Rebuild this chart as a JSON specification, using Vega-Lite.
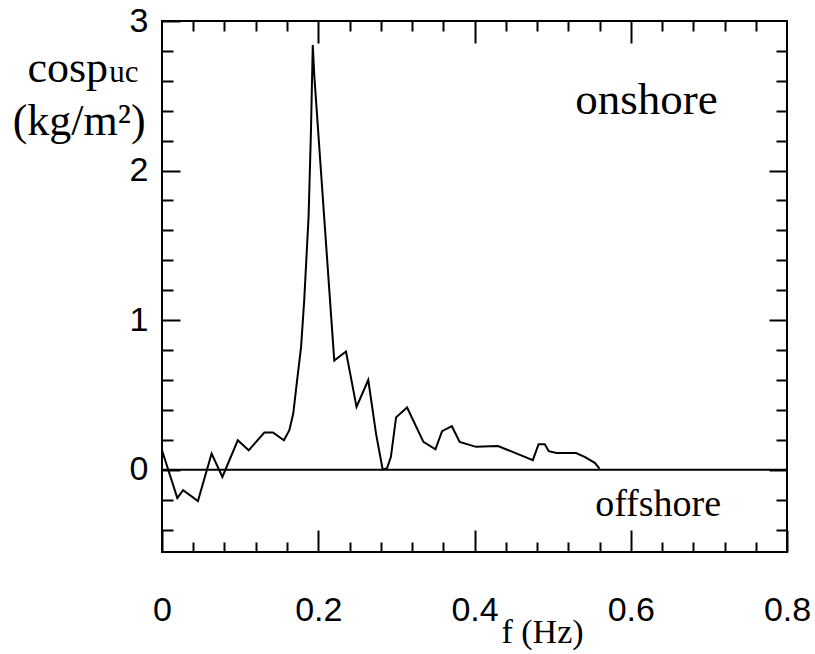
{
  "$schema": "https://vega.github.io/schema/vega-lite/v6.json",
  "width": 625,
  "height": 531,
  "autosize": {"type": "none"},
  "padding": {"left": 162, "top": 21, "right": 28, "bottom": 102},
  "background": "white",
  "config": {
    "view": {"stroke": "black", "strokeWidth": 2},
    "axis": {"domain": false, "grid": false, "tickColor": "black", "tickWidth": 2, "labelFont": "Liberation Sans", "labelFontSize": 34, "labelColor": "black", "labelFlush": false, "labelOverlap": false}
  },
  "datasets": {
    "curve": [
      {"f": 0.000, "c": 0.13},
      {"f": 0.0196, "c": -0.19},
      {"f": 0.027, "c": -0.137},
      {"f": 0.046, "c": -0.21},
      {"f": 0.0635, "c": 0.108},
      {"f": 0.0773, "c": -0.048},
      {"f": 0.097, "c": 0.197},
      {"f": 0.111, "c": 0.13},
      {"f": 0.131, "c": 0.249},
      {"f": 0.142, "c": 0.249},
      {"f": 0.156, "c": 0.197},
      {"f": 0.163, "c": 0.264},
      {"f": 0.168, "c": 0.376},
      {"f": 0.173, "c": 0.6},
      {"f": 0.178, "c": 0.82},
      {"f": 0.182, "c": 1.13},
      {"f": 0.1876, "c": 1.69},
      {"f": 0.1906, "c": 2.25},
      {"f": 0.193, "c": 2.84},
      {"f": 0.195, "c": 2.63},
      {"f": 0.201, "c": 2.18},
      {"f": 0.212, "c": 1.36},
      {"f": 0.2205, "c": 0.73},
      {"f": 0.2355, "c": 0.79},
      {"f": 0.249, "c": 0.42},
      {"f": 0.264, "c": 0.60},
      {"f": 0.274, "c": 0.24},
      {"f": 0.2825, "c": 0.0},
      {"f": 0.288, "c": 0.01},
      {"f": 0.293, "c": 0.086},
      {"f": 0.2996, "c": 0.35},
      {"f": 0.3137, "c": 0.416},
      {"f": 0.3346, "c": 0.186},
      {"f": 0.35, "c": 0.137},
      {"f": 0.3585, "c": 0.258},
      {"f": 0.371, "c": 0.291},
      {"f": 0.381, "c": 0.186},
      {"f": 0.402, "c": 0.153},
      {"f": 0.43, "c": 0.159},
      {"f": 0.4747, "c": 0.064},
      {"f": 0.482, "c": 0.171},
      {"f": 0.49, "c": 0.171},
      {"f": 0.495, "c": 0.124},
      {"f": 0.505, "c": 0.112},
      {"f": 0.53, "c": 0.112},
      {"f": 0.541, "c": 0.086},
      {"f": 0.554, "c": 0.046},
      {"f": 0.560, "c": 0.008}
    ],
    "one": [{}]
  },
  "resolve": {"axis": {"x": "independent", "y": "independent"}},
  "layer": [
    {
      "data": {"name": "curve"},
      "mark": {"type": "line", "color": "black", "strokeWidth": 2},
      "encoding": {
        "x": {"field": "f", "type": "quantitative", "scale": {"domain": [0, 0.8], "nice": false, "zero": false},
          "axis": {"orient": "bottom", "values": [0, 0.2, 0.4, 0.6, 0.8], "tickSize": -22, "labelPadding": 63,
            "labelExpr": "datum.value == 0 ? '0' : format(datum.value, '.1f')",
            "title": "f (Hz)", "titleFont": "Liberation Serif", "titleFontSize": 34, "titleFontWeight": "normal", "titleColor": "black",
            "titleX": 380, "titleY": 90, "titleBaseline": "alphabetic", "titleAlign": "center", "titleAnchor": null}},
        "y": {"field": "c", "type": "quantitative", "scale": {"domain": [-0.55, 3], "nice": false, "zero": false},
          "axis": {"orient": "left", "values": [0, 1, 2, 3], "tickSize": -18, "labelPadding": 32,
            "labelExpr": "format(datum.value, 'd')", "title": null}}
      }
    },
    {
      "data": {"name": "curve"},
      "mark": {"type": "point", "opacity": 0},
      "encoding": {
        "x": {"field": "f", "type": "quantitative", "scale": {"domain": [0, 0.8], "nice": false, "zero": false},
          "axis": {"orient": "bottom", "values": [0.04, 0.08, 0.12, 0.16, 0.24, 0.28, 0.32, 0.36, 0.44, 0.48, 0.52, 0.56, 0.64, 0.68, 0.72, 0.76], "tickSize": -10, "labels": false, "title": null}},
        "y": {"field": "c", "type": "quantitative", "scale": {"domain": [-0.55, 3], "nice": false, "zero": false},
          "axis": {"orient": "left", "values": [-0.4, -0.2, 0.2, 0.4, 0.6, 0.8, 1.2, 1.4, 1.6, 1.8, 2.2, 2.4, 2.6, 2.8], "tickSize": -11, "labels": false, "title": null}}
      }
    },
    {
      "data": {"name": "curve"},
      "mark": {"type": "point", "opacity": 0},
      "encoding": {
        "x": {"field": "f", "type": "quantitative", "scale": {"domain": [0, 0.8], "nice": false, "zero": false},
          "axis": {"orient": "top", "values": [0.2, 0.4, 0.6], "tickSize": -22, "labels": false, "title": null}},
        "y": {"field": "c", "type": "quantitative", "scale": {"domain": [-0.55, 3], "nice": false, "zero": false},
          "axis": {"orient": "right", "values": [0, 1, 2], "tickSize": -18, "labels": false, "title": null}}
      }
    },
    {
      "data": {"name": "curve"},
      "mark": {"type": "point", "opacity": 0},
      "encoding": {
        "x": {"field": "f", "type": "quantitative", "scale": {"domain": [0, 0.8], "nice": false, "zero": false},
          "axis": {"orient": "top", "values": [0.04, 0.08, 0.12, 0.16, 0.24, 0.28, 0.32, 0.36, 0.44, 0.48, 0.52, 0.56, 0.64, 0.68, 0.72, 0.76], "tickSize": -10, "labels": false, "title": null}},
        "y": {"field": "c", "type": "quantitative", "scale": {"domain": [-0.55, 3], "nice": false, "zero": false},
          "axis": {"orient": "right", "values": [-0.4, -0.2, 0.2, 0.4, 0.6, 0.8, 1.2, 1.4, 1.6, 1.8, 2.2, 2.4, 2.6, 2.8], "tickSize": -11, "labels": false, "title": null}}
      }
    },
    {
      "data": {"name": "one"},
      "mark": {"type": "rule", "color": "black", "strokeWidth": 2},
      "encoding": {"y": {"datum": 0, "axis": null}}
    },
    {
      "data": {"name": "one"},
      "mark": {"type": "text", "text": "onshore", "font": "Liberation Serif", "fontSize": 45, "align": "center", "baseline": "middle", "color": "black"},
      "encoding": {"x": {"datum": 0.62, "axis": null}, "y": {"datum": 2.47, "axis": null}}
    },
    {
      "data": {"name": "one"},
      "mark": {"type": "text", "text": "offshore", "font": "Liberation Serif", "fontSize": 38, "align": "center", "baseline": "middle", "color": "black"},
      "encoding": {"x": {"datum": 0.635, "axis": null}, "y": {"datum": -0.237, "axis": null}}
    },
    {
      "data": {"name": "one"},
      "mark": {"type": "text", "text": "cosp", "font": "Liberation Serif", "fontSize": 44, "align": "right", "baseline": "alphabetic", "color": "black"},
      "encoding": {"x": {"datum": -0.069, "axis": null}, "y": {"datum": 2.59, "axis": null}}
    },
    {
      "data": {"name": "one"},
      "mark": {"type": "text", "text": "uc", "font": "Liberation Serif", "fontSize": 31, "align": "left", "baseline": "alphabetic", "color": "black"},
      "encoding": {"x": {"datum": -0.0675, "axis": null}, "y": {"datum": 2.59, "axis": null}}
    },
    {
      "data": {"name": "one"},
      "mark": {"type": "text", "text": "(kg/m²)", "font": "Liberation Serif", "fontSize": 44, "align": "center", "baseline": "alphabetic", "color": "black"},
      "encoding": {"x": {"datum": -0.106, "axis": null}, "y": {"datum": 2.24, "axis": null}}
    }
  ]
}
